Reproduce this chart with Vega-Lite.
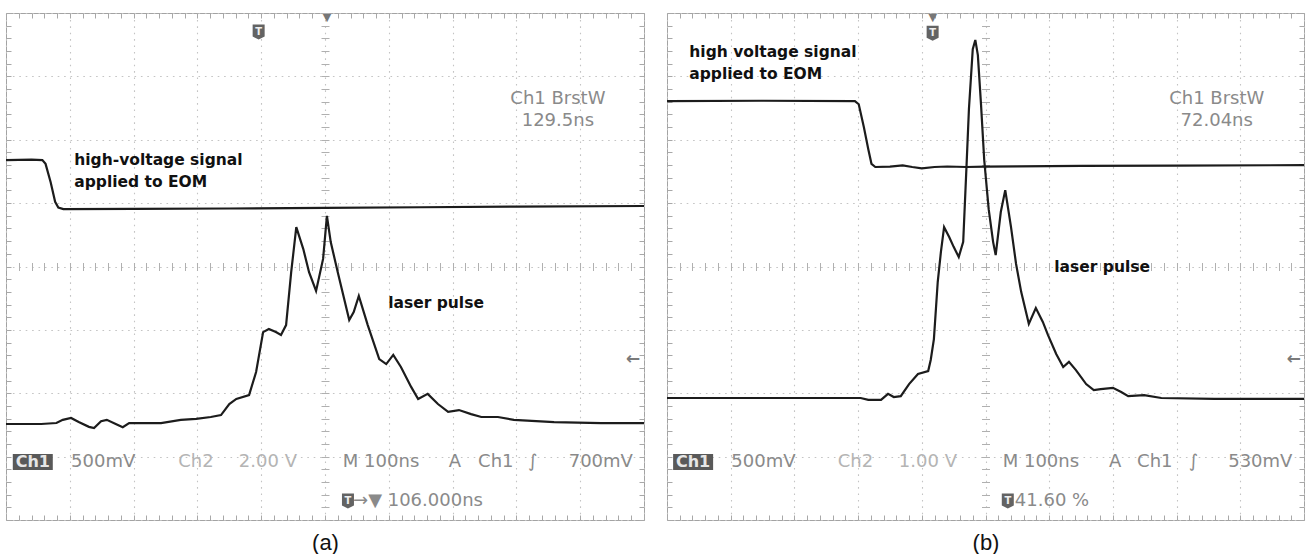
{
  "$schema": "https://vega.github.io/schema/vega-lite/v6.json",
  "background": "white",
  "padding": {"left": 5, "top": 11, "right": 2, "bottom": 2},
  "spacing": 23,
  "bounds": "flush",
  "config": {
    "view": {"stroke": "#a3a3a3", "strokeWidth": 1},
    "text": {"font": "DejaVu Sans"}
  },
  "hconcat": [
    {
      "width": 638,
      "height": 507,
      "resolve": {"axis": {"x": "independent", "y": "independent"}},
      "layer": [
        {
          "data": {"values": [
            {"t": -500, "v": 1.68}, {"t": -460, "v": 1.685}, {"t": -443, "v": 1.68}, {"t": -438, "v": 1.62},
            {"t": -430, "v": 1.33}, {"t": -423, "v": 1.02}, {"t": -418, "v": 0.93}, {"t": -410, "v": 0.905},
            {"t": -300, "v": 0.91}, {"t": -150, "v": 0.915}, {"t": 0, "v": 0.925}, {"t": 150, "v": 0.935},
            {"t": 300, "v": 0.945}, {"t": 500, "v": 0.955}
          ]},
          "mark": {"type": "line", "color": "#1c1c1c", "strokeWidth": 2.2, "clip": true},
          "encoding": {
            "x": {"field": "t", "type": "quantitative", "scale": {"domain": [-500, 500], "nice": false, "zero": false},
              "axis": {"orient": "bottom", "values": [-500, -400, -300, -200, -100, 0, 100, 200, 300, 400, 500],
                "grid": true, "gridColor": "#c4c4c4", "gridDash": [1.6, 4.8], "gridWidth": 1.1,
                "ticks": false, "labels": false, "domain": false,
                "title": "(a)", "titleFont": "Liberation Sans", "titleFontSize": 22, "titleFontWeight": "normal",
                "titleColor": "#111111", "titlePadding": 12}},
            "y": {"field": "v", "type": "quantitative", "scale": {"domain": [-4, 4], "nice": false, "zero": false},
              "axis": {"orient": "left", "values": [-4, -3, -2, -1, 0, 1, 2, 3, 4],
                "grid": true, "gridColor": "#c4c4c4", "gridDash": [1.6, 4.8], "gridWidth": 1.1,
                "ticks": false, "labels": false, "domain": false, "title": null}}
          }
        },
        {
          "data": {"values": [
            {"t": -500, "v": -2.485}, {"t": -445, "v": -2.485}, {"t": -421, "v": -2.47}, {"t": -411, "v": -2.42},
            {"t": -398, "v": -2.39}, {"t": -386, "v": -2.455}, {"t": -370, "v": -2.53}, {"t": -362, "v": -2.55},
            {"t": -351, "v": -2.44}, {"t": -342, "v": -2.42}, {"t": -328, "v": -2.485}, {"t": -317, "v": -2.535},
            {"t": -307, "v": -2.47}, {"t": -288, "v": -2.47}, {"t": -257, "v": -2.47}, {"t": -226, "v": -2.42},
            {"t": -202, "v": -2.405}, {"t": -179, "v": -2.375}, {"t": -163, "v": -2.345}, {"t": -150, "v": -2.17},
            {"t": -139, "v": -2.09}, {"t": -119, "v": -2.03}, {"t": -108, "v": -1.665}, {"t": -97, "v": -1.035},
            {"t": -88, "v": -0.985}, {"t": -77, "v": -1.035}, {"t": -69, "v": -1.08}, {"t": -61, "v": -0.925},
            {"t": -53, "v": -0.09}, {"t": -45, "v": 0.62}, {"t": -34, "v": 0.275}, {"t": -25, "v": -0.09},
            {"t": -14, "v": -0.385}, {"t": -3, "v": 0.12}, {"t": 3, "v": 0.8}, {"t": 9, "v": 0.385},
            {"t": 20, "v": -0.09}, {"t": 38, "v": -0.845}, {"t": 45, "v": -0.72}, {"t": 53, "v": -0.465},
            {"t": 67, "v": -0.925}, {"t": 85, "v": -1.46}, {"t": 96, "v": -1.54}, {"t": 107, "v": -1.395},
            {"t": 119, "v": -1.585}, {"t": 135, "v": -1.9}, {"t": 146, "v": -2.09}, {"t": 161, "v": -2.01},
            {"t": 177, "v": -2.17}, {"t": 193, "v": -2.295}, {"t": 210, "v": -2.265}, {"t": 229, "v": -2.33},
            {"t": 245, "v": -2.375}, {"t": 271, "v": -2.375}, {"t": 296, "v": -2.42}, {"t": 359, "v": -2.455},
            {"t": 433, "v": -2.47}, {"t": 500, "v": -2.47}
          ]},
          "mark": {"type": "line", "color": "#1c1c1c", "strokeWidth": 2.2, "clip": true},
          "encoding": {
            "x": {"field": "t", "type": "quantitative", "scale": {"domain": [-500, 500], "nice": false, "zero": false},
              "axis": {"orient": "bottom", "values": [-500,-480,-460,-440,-420,-400,-380,-360,-340,-320,-300,-280,-260,-240,-220,-200,-180,-160,-140,-120,-100,-80,-60,-40,-20,0,20,40,60,80,100,120,140,160,180,200,220,240,260,280,300,320,340,360,380,400,420,440,460,480,500],
                "grid": false, "ticks": true, "tickSize": -5, "tickColor": "#a8a8a8", "labels": false, "domain": false, "title": null}},
            "y": {"field": "v", "type": "quantitative", "scale": {"domain": [-4, 4], "nice": false, "zero": false},
              "axis": {"orient": "left", "values": [-4,-3.8,-3.6,-3.4,-3.2,-3,-2.8,-2.6,-2.4,-2.2,-2,-1.8,-1.6,-1.4,-1.2,-1,-0.8,-0.6,-0.4,-0.2,0,0.2,0.4,0.6,0.8,1,1.2,1.4,1.6,1.8,2,2.2,2.4,2.6,2.8,3,3.2,3.4,3.6,3.8,4],
                "grid": false, "ticks": true, "tickSize": -5, "tickColor": "#a8a8a8", "labels": false, "domain": false, "title": null}}
          }
        },
        {
          "data": {"name": "notesA", "values": [
            {"kind": "note", "t": -393, "v": 1.68, "label": "high-voltage signal"},
            {"kind": "note", "t": -393, "v": 1.33, "label": "applied to EOM"},
            {"kind": "note", "t": 99, "v": -0.58, "label": "laser pulse"},
            {"kind": "meas", "t": 365, "v": 2.64, "label": "Ch1 BrstW"},
            {"kind": "meas", "t": 365, "v": 2.3, "label": "129.5ns"},
            {"kind": "read", "t": -398, "v": -3.085, "label": "500mV"},
            {"kind": "dim", "t": -230, "v": -3.085, "label": "Ch2"},
            {"kind": "dim", "t": -135, "v": -3.085, "label": "2.00 V"},
            {"kind": "read", "t": 28, "v": -3.085, "label": "M 100ns"},
            {"kind": "read", "t": 194, "v": -3.085, "label": "A"},
            {"kind": "read", "t": 240, "v": -3.085, "label": "Ch1"},
            {"kind": "read", "t": 318, "v": -3.085, "label": "∫"},
            {"kind": "read", "t": 382, "v": -3.085, "label": "700mV"},
            {"kind": "read", "t": 44, "v": -3.7, "label": "→▼ 106.000ns"},
            {"kind": "badge", "t": -458, "v": -3.085, "label": "Ch1"},
            {"kind": "icon", "t": -104, "v": 3.7, "label": "T"},
            {"kind": "icon", "t": 36, "v": -3.7, "label": "T"},
            {"kind": "mark", "t": 3, "v": 3.92, "label": "▼"},
            {"kind": "arrow", "t": 483, "v": -1.46, "label": "←"}
          ]},
          "layer": [
            {
              "transform": [{"filter": "datum.kind === 'note'"}],
              "mark": {"type": "text", "font": "DejaVu Sans", "fontWeight": "bold", "fontSize": 15.5, "color": "#111111", "align": "left", "baseline": "middle"},
              "encoding": {
                "x": {"field": "t", "type": "quantitative", "scale": {"domain": [-500, 500], "nice": false, "zero": false},
                  "axis": {"orient": "top", "values": [-500,-480,-460,-440,-420,-400,-380,-360,-340,-320,-300,-280,-260,-240,-220,-200,-180,-160,-140,-120,-100,-80,-60,-40,-20,0,20,40,60,80,100,120,140,160,180,200,220,240,260,280,300,320,340,360,380,400,420,440,460,480,500],
                    "grid": false, "ticks": true, "tickSize": -5, "tickColor": "#a8a8a8", "labels": false, "domain": false, "title": null}},
                "y": {"field": "v", "type": "quantitative", "scale": {"domain": [-4, 4], "nice": false, "zero": false},
                  "axis": {"orient": "right", "values": [-4,-3.8,-3.6,-3.4,-3.2,-3,-2.8,-2.6,-2.4,-2.2,-2,-1.8,-1.6,-1.4,-1.2,-1,-0.8,-0.6,-0.4,-0.2,0,0.2,0.4,0.6,0.8,1,1.2,1.4,1.6,1.8,2,2.2,2.4,2.6,2.8,3,3.2,3.4,3.6,3.8,4],
                    "grid": false, "ticks": true, "tickSize": -5, "tickColor": "#a8a8a8", "labels": false, "domain": false, "title": null}},
                "text": {"field": "label"}
              }
            },
            {
              "transform": [{"filter": "datum.kind === 'meas'"}],
              "mark": {"type": "text", "fontSize": 18, "color": "#8a8a8a", "align": "center", "baseline": "middle"},
              "encoding": {
                "x": {"field": "t", "type": "quantitative", "scale": {"domain": [-500, 500], "nice": false, "zero": false},
                  "axis": {"orient": "bottom", "offset": -257.5, "values": [-500,-480,-460,-440,-420,-400,-380,-360,-340,-320,-300,-280,-260,-240,-220,-200,-180,-160,-140,-120,-100,-80,-60,-40,-20,0,20,40,60,80,100,120,140,160,180,200,220,240,260,280,300,320,340,360,380,400,420,440,460,480,500],
                    "grid": false, "ticks": true, "tickSize": 8, "tickColor": "#b0b0b0", "labels": false, "domain": false, "title": null}},
                "y": {"field": "v", "type": "quantitative", "scale": {"domain": [-4, 4], "nice": false, "zero": false},
                  "axis": {"orient": "left", "offset": -323, "values": [-4,-3.8,-3.6,-3.4,-3.2,-3,-2.8,-2.6,-2.4,-2.2,-2,-1.8,-1.6,-1.4,-1.2,-1,-0.8,-0.6,-0.4,-0.2,0,0.2,0.4,0.6,0.8,1,1.2,1.4,1.6,1.8,2,2.2,2.4,2.6,2.8,3,3.2,3.4,3.6,3.8,4],
                    "grid": false, "ticks": true, "tickSize": 8, "tickColor": "#b0b0b0", "labels": false, "domain": false, "title": null}},
                "text": {"field": "label"}
              }
            },
            {
              "transform": [{"filter": "datum.kind === 'read'"}],
              "mark": {"type": "text", "fontSize": 18, "color": "#8a8a8a", "align": "left", "baseline": "middle"},
              "encoding": {
                "x": {"field": "t", "type": "quantitative", "scale": {"domain": [-500, 500], "nice": false, "zero": false}, "axis": null},
                "y": {"field": "v", "type": "quantitative", "scale": {"domain": [-4, 4], "nice": false, "zero": false}, "axis": null},
                "text": {"field": "label"}
              }
            },
            {
              "transform": [{"filter": "datum.kind === 'dim'"}],
              "mark": {"type": "text", "fontSize": 18, "color": "#b4b4b4", "align": "left", "baseline": "middle"},
              "encoding": {
                "x": {"field": "t", "type": "quantitative", "scale": {"domain": [-500, 500], "nice": false, "zero": false}, "axis": null},
                "y": {"field": "v", "type": "quantitative", "scale": {"domain": [-4, 4], "nice": false, "zero": false}, "axis": null},
                "text": {"field": "label"}
              }
            },
            {
              "transform": [{"filter": "datum.kind === 'badge'"}],
              "mark": {"type": "point", "shape": "M-1,-0.4H1V0.4H-1Z", "size": 1600, "filled": true, "color": "#595959", "opacity": 1},
              "encoding": {
                "x": {"field": "t", "type": "quantitative", "scale": {"domain": [-500, 500], "nice": false, "zero": false}, "axis": null},
                "y": {"field": "v", "type": "quantitative", "scale": {"domain": [-4, 4], "nice": false, "zero": false}, "axis": null}
              }
            },
            {
              "transform": [{"filter": "datum.kind === 'badge'"}],
              "mark": {"type": "text", "fontSize": 16, "fontWeight": "bold", "color": "#e6e6e6", "align": "center", "baseline": "middle"},
              "encoding": {
                "x": {"field": "t", "type": "quantitative", "scale": {"domain": [-500, 500], "nice": false, "zero": false}, "axis": null},
                "y": {"field": "v", "type": "quantitative", "scale": {"domain": [-4, 4], "nice": false, "zero": false}, "axis": null},
                "text": {"field": "label"}
              }
            },
            {
              "transform": [{"filter": "datum.kind === 'icon'"}],
              "mark": {"type": "point", "shape": "M-0.8,-1H0.8V0.6L0,1L-0.8,0.6Z", "size": 225, "filled": true, "color": "#636363", "opacity": 1},
              "encoding": {
                "x": {"field": "t", "type": "quantitative", "scale": {"domain": [-500, 500], "nice": false, "zero": false}, "axis": null},
                "y": {"field": "v", "type": "quantitative", "scale": {"domain": [-4, 4], "nice": false, "zero": false}, "axis": null}
              }
            },
            {
              "transform": [{"filter": "datum.kind === 'icon'"}],
              "mark": {"type": "text", "fontSize": 10, "fontWeight": "bold", "color": "#eeeeee", "align": "center", "baseline": "middle"},
              "encoding": {
                "x": {"field": "t", "type": "quantitative", "scale": {"domain": [-500, 500], "nice": false, "zero": false}, "axis": null},
                "y": {"field": "v", "type": "quantitative", "scale": {"domain": [-4, 4], "nice": false, "zero": false}, "axis": null},
                "text": {"field": "label"}
              }
            },
            {
              "transform": [{"filter": "datum.kind === 'mark'"}],
              "mark": {"type": "text", "fontSize": 11, "color": "#777777", "align": "center", "baseline": "middle"},
              "encoding": {
                "x": {"field": "t", "type": "quantitative", "scale": {"domain": [-500, 500], "nice": false, "zero": false}, "axis": null},
                "y": {"field": "v", "type": "quantitative", "scale": {"domain": [-4, 4], "nice": false, "zero": false}, "axis": null},
                "text": {"field": "label"}
              }
            },
            {
              "transform": [{"filter": "datum.kind === 'arrow'"}],
              "mark": {"type": "text", "fontSize": 17, "fontWeight": "bold", "color": "#7a7a7a", "align": "center", "baseline": "middle"},
              "encoding": {
                "x": {"field": "t", "type": "quantitative", "scale": {"domain": [-500, 500], "nice": false, "zero": false}, "axis": null},
                "y": {"field": "v", "type": "quantitative", "scale": {"domain": [-4, 4], "nice": false, "zero": false}, "axis": null},
                "text": {"field": "label"}
              }
            }
          ]
        }
      ]
    },
    {
      "width": 637,
      "height": 507,
      "resolve": {"axis": {"x": "independent", "y": "independent"}},
      "layer": [
        {
          "data": {"values": [
            {"t": -500, "v": 2.61}, {"t": -350, "v": 2.615}, {"t": -205, "v": 2.61}, {"t": -199, "v": 2.56},
            {"t": -191, "v": 2.2}, {"t": -184, "v": 1.85}, {"t": -179, "v": 1.62}, {"t": -173, "v": 1.57},
            {"t": -150, "v": 1.575}, {"t": -130, "v": 1.595}, {"t": -115, "v": 1.57}, {"t": -100, "v": 1.55},
            {"t": -80, "v": 1.57}, {"t": -60, "v": 1.578}, {"t": -30, "v": 1.57}, {"t": 0, "v": 1.575},
            {"t": 50, "v": 1.58}, {"t": 150, "v": 1.588}, {"t": 300, "v": 1.592}, {"t": 500, "v": 1.6}
          ]},
          "mark": {"type": "line", "color": "#1c1c1c", "strokeWidth": 2.2, "clip": true},
          "encoding": {
            "x": {"field": "t", "type": "quantitative", "scale": {"domain": [-500, 500], "nice": false, "zero": false},
              "axis": {"orient": "bottom", "values": [-500, -400, -300, -200, -100, 0, 100, 200, 300, 400, 500],
                "grid": true, "gridColor": "#c4c4c4", "gridDash": [1.6, 4.8], "gridWidth": 1.1,
                "ticks": false, "labels": false, "domain": false,
                "title": "(b)", "titleFont": "Liberation Sans", "titleFontSize": 22, "titleFontWeight": "normal",
                "titleColor": "#111111", "titlePadding": 12}},
            "y": {"field": "v", "type": "quantitative", "scale": {"domain": [-4, 4], "nice": false, "zero": false},
              "axis": {"orient": "left", "values": [-4, -3, -2, -1, 0, 1, 2, 3, 4],
                "grid": true, "gridColor": "#c4c4c4", "gridDash": [1.6, 4.8], "gridWidth": 1.1,
                "ticks": false, "labels": false, "domain": false, "title": null}}
          }
        },
        {
          "data": {"values": [
            {"t": -500, "v": -2.075}, {"t": -290, "v": -2.075}, {"t": -196, "v": -2.075}, {"t": -184, "v": -2.105},
            {"t": -164, "v": -2.105}, {"t": -153, "v": -2.01}, {"t": -144, "v": -2.06}, {"t": -133, "v": -2.045},
            {"t": -120, "v": -1.855}, {"t": -106, "v": -1.695}, {"t": -90, "v": -1.65}, {"t": -86, "v": -1.475},
            {"t": -81, "v": -1.145}, {"t": -75, "v": -0.245}, {"t": -70, "v": 0.23}, {"t": -65, "v": 0.62},
            {"t": -57, "v": 0.465}, {"t": -50, "v": 0.31}, {"t": -42, "v": 0.15}, {"t": -35, "v": 0.39},
            {"t": -30, "v": 1.54}, {"t": -26, "v": 2.485}, {"t": -20, "v": 3.43}, {"t": -16, "v": 3.575},
            {"t": -12, "v": 3.335}, {"t": -7, "v": 2.55}, {"t": -2, "v": 1.68}, {"t": 5, "v": 0.905},
            {"t": 12, "v": 0.385}, {"t": 16, "v": 0.18}, {"t": 24, "v": 0.86}, {"t": 31, "v": 1.205},
            {"t": 40, "v": 0.625}, {"t": 48, "v": 0.04}, {"t": 56, "v": -0.4}, {"t": 68, "v": -0.905},
            {"t": 79, "v": -0.655}, {"t": 90, "v": -0.875}, {"t": 98, "v": -1.08}, {"t": 111, "v": -1.38},
            {"t": 122, "v": -1.585}, {"t": 131, "v": -1.505}, {"t": 142, "v": -1.635}, {"t": 158, "v": -1.855},
            {"t": 170, "v": -1.95}, {"t": 181, "v": -1.935}, {"t": 200, "v": -1.915}, {"t": 213, "v": -1.98},
            {"t": 224, "v": -2.045}, {"t": 249, "v": -2.03}, {"t": 276, "v": -2.075}, {"t": 359, "v": -2.09},
            {"t": 500, "v": -2.09}
          ]},
          "mark": {"type": "line", "color": "#1c1c1c", "strokeWidth": 2.2, "clip": true},
          "encoding": {
            "x": {"field": "t", "type": "quantitative", "scale": {"domain": [-500, 500], "nice": false, "zero": false},
              "axis": {"orient": "bottom", "values": [-500,-480,-460,-440,-420,-400,-380,-360,-340,-320,-300,-280,-260,-240,-220,-200,-180,-160,-140,-120,-100,-80,-60,-40,-20,0,20,40,60,80,100,120,140,160,180,200,220,240,260,280,300,320,340,360,380,400,420,440,460,480,500],
                "grid": false, "ticks": true, "tickSize": -5, "tickColor": "#a8a8a8", "labels": false, "domain": false, "title": null}},
            "y": {"field": "v", "type": "quantitative", "scale": {"domain": [-4, 4], "nice": false, "zero": false},
              "axis": {"orient": "left", "values": [-4,-3.8,-3.6,-3.4,-3.2,-3,-2.8,-2.6,-2.4,-2.2,-2,-1.8,-1.6,-1.4,-1.2,-1,-0.8,-0.6,-0.4,-0.2,0,0.2,0.4,0.6,0.8,1,1.2,1.4,1.6,1.8,2,2.2,2.4,2.6,2.8,3,3.2,3.4,3.6,3.8,4],
                "grid": false, "ticks": true, "tickSize": -5, "tickColor": "#a8a8a8", "labels": false, "domain": false, "title": null}}
          }
        },
        {
          "data": {"name": "notesB", "values": [
            {"kind": "note", "t": -465, "v": 3.385, "label": "high voltage signal"},
            {"kind": "note", "t": -465, "v": 3.035, "label": "applied to EOM"},
            {"kind": "note", "t": 108, "v": -0.01, "label": "laser pulse"},
            {"kind": "meas", "t": 363, "v": 2.64, "label": "Ch1 BrstW"},
            {"kind": "meas", "t": 363, "v": 2.3, "label": "72.04ns"},
            {"kind": "read", "t": -399, "v": -3.085, "label": "500mV"},
            {"kind": "dim", "t": -232, "v": -3.085, "label": "Ch2"},
            {"kind": "dim", "t": -136, "v": -3.085, "label": "1.00 V"},
            {"kind": "read", "t": 27, "v": -3.085, "label": "M 100ns"},
            {"kind": "read", "t": 194, "v": -3.085, "label": "A"},
            {"kind": "read", "t": 238, "v": -3.085, "label": "Ch1"},
            {"kind": "read", "t": 319, "v": -3.085, "label": "∫"},
            {"kind": "read", "t": 381, "v": -3.085, "label": "530mV"},
            {"kind": "read", "t": 46, "v": -3.7, "label": "41.60 %"},
            {"kind": "badge", "t": -459, "v": -3.085, "label": "Ch1"},
            {"kind": "icon", "t": -83, "v": 3.68, "label": "T"},
            {"kind": "icon", "t": 35, "v": -3.7, "label": "T"},
            {"kind": "mark", "t": -83, "v": 3.92, "label": "▼"},
            {"kind": "arrow", "t": 484, "v": -1.46, "label": "←"}
          ]},
          "layer": [
            {
              "transform": [{"filter": "datum.kind === 'note'"}],
              "mark": {"type": "text", "font": "DejaVu Sans", "fontWeight": "bold", "fontSize": 15.5, "color": "#111111", "align": "left", "baseline": "middle"},
              "encoding": {
                "x": {"field": "t", "type": "quantitative", "scale": {"domain": [-500, 500], "nice": false, "zero": false},
                  "axis": {"orient": "top", "values": [-500,-480,-460,-440,-420,-400,-380,-360,-340,-320,-300,-280,-260,-240,-220,-200,-180,-160,-140,-120,-100,-80,-60,-40,-20,0,20,40,60,80,100,120,140,160,180,200,220,240,260,280,300,320,340,360,380,400,420,440,460,480,500],
                    "grid": false, "ticks": true, "tickSize": -5, "tickColor": "#a8a8a8", "labels": false, "domain": false, "title": null}},
                "y": {"field": "v", "type": "quantitative", "scale": {"domain": [-4, 4], "nice": false, "zero": false},
                  "axis": {"orient": "right", "values": [-4,-3.8,-3.6,-3.4,-3.2,-3,-2.8,-2.6,-2.4,-2.2,-2,-1.8,-1.6,-1.4,-1.2,-1,-0.8,-0.6,-0.4,-0.2,0,0.2,0.4,0.6,0.8,1,1.2,1.4,1.6,1.8,2,2.2,2.4,2.6,2.8,3,3.2,3.4,3.6,3.8,4],
                    "grid": false, "ticks": true, "tickSize": -5, "tickColor": "#a8a8a8", "labels": false, "domain": false, "title": null}},
                "text": {"field": "label"}
              }
            },
            {
              "transform": [{"filter": "datum.kind === 'meas'"}],
              "mark": {"type": "text", "fontSize": 18, "color": "#8a8a8a", "align": "center", "baseline": "middle"},
              "encoding": {
                "x": {"field": "t", "type": "quantitative", "scale": {"domain": [-500, 500], "nice": false, "zero": false},
                  "axis": {"orient": "bottom", "offset": -257.5, "values": [-500,-480,-460,-440,-420,-400,-380,-360,-340,-320,-300,-280,-260,-240,-220,-200,-180,-160,-140,-120,-100,-80,-60,-40,-20,0,20,40,60,80,100,120,140,160,180,200,220,240,260,280,300,320,340,360,380,400,420,440,460,480,500],
                    "grid": false, "ticks": true, "tickSize": 8, "tickColor": "#b0b0b0", "labels": false, "domain": false, "title": null}},
                "y": {"field": "v", "type": "quantitative", "scale": {"domain": [-4, 4], "nice": false, "zero": false},
                  "axis": {"orient": "left", "offset": -322.5, "values": [-4,-3.8,-3.6,-3.4,-3.2,-3,-2.8,-2.6,-2.4,-2.2,-2,-1.8,-1.6,-1.4,-1.2,-1,-0.8,-0.6,-0.4,-0.2,0,0.2,0.4,0.6,0.8,1,1.2,1.4,1.6,1.8,2,2.2,2.4,2.6,2.8,3,3.2,3.4,3.6,3.8,4],
                    "grid": false, "ticks": true, "tickSize": 8, "tickColor": "#b0b0b0", "labels": false, "domain": false, "title": null}},
                "text": {"field": "label"}
              }
            },
            {
              "transform": [{"filter": "datum.kind === 'read'"}],
              "mark": {"type": "text", "fontSize": 18, "color": "#8a8a8a", "align": "left", "baseline": "middle"},
              "encoding": {
                "x": {"field": "t", "type": "quantitative", "scale": {"domain": [-500, 500], "nice": false, "zero": false}, "axis": null},
                "y": {"field": "v", "type": "quantitative", "scale": {"domain": [-4, 4], "nice": false, "zero": false}, "axis": null},
                "text": {"field": "label"}
              }
            },
            {
              "transform": [{"filter": "datum.kind === 'dim'"}],
              "mark": {"type": "text", "fontSize": 18, "color": "#b4b4b4", "align": "left", "baseline": "middle"},
              "encoding": {
                "x": {"field": "t", "type": "quantitative", "scale": {"domain": [-500, 500], "nice": false, "zero": false}, "axis": null},
                "y": {"field": "v", "type": "quantitative", "scale": {"domain": [-4, 4], "nice": false, "zero": false}, "axis": null},
                "text": {"field": "label"}
              }
            },
            {
              "transform": [{"filter": "datum.kind === 'badge'"}],
              "mark": {"type": "point", "shape": "M-1,-0.4H1V0.4H-1Z", "size": 1600, "filled": true, "color": "#595959", "opacity": 1},
              "encoding": {
                "x": {"field": "t", "type": "quantitative", "scale": {"domain": [-500, 500], "nice": false, "zero": false}, "axis": null},
                "y": {"field": "v", "type": "quantitative", "scale": {"domain": [-4, 4], "nice": false, "zero": false}, "axis": null}
              }
            },
            {
              "transform": [{"filter": "datum.kind === 'badge'"}],
              "mark": {"type": "text", "fontSize": 16, "fontWeight": "bold", "color": "#e6e6e6", "align": "center", "baseline": "middle"},
              "encoding": {
                "x": {"field": "t", "type": "quantitative", "scale": {"domain": [-500, 500], "nice": false, "zero": false}, "axis": null},
                "y": {"field": "v", "type": "quantitative", "scale": {"domain": [-4, 4], "nice": false, "zero": false}, "axis": null},
                "text": {"field": "label"}
              }
            },
            {
              "transform": [{"filter": "datum.kind === 'icon'"}],
              "mark": {"type": "point", "shape": "M-0.8,-1H0.8V0.6L0,1L-0.8,0.6Z", "size": 225, "filled": true, "color": "#636363", "opacity": 1},
              "encoding": {
                "x": {"field": "t", "type": "quantitative", "scale": {"domain": [-500, 500], "nice": false, "zero": false}, "axis": null},
                "y": {"field": "v", "type": "quantitative", "scale": {"domain": [-4, 4], "nice": false, "zero": false}, "axis": null}
              }
            },
            {
              "transform": [{"filter": "datum.kind === 'icon'"}],
              "mark": {"type": "text", "fontSize": 10, "fontWeight": "bold", "color": "#eeeeee", "align": "center", "baseline": "middle"},
              "encoding": {
                "x": {"field": "t", "type": "quantitative", "scale": {"domain": [-500, 500], "nice": false, "zero": false}, "axis": null},
                "y": {"field": "v", "type": "quantitative", "scale": {"domain": [-4, 4], "nice": false, "zero": false}, "axis": null},
                "text": {"field": "label"}
              }
            },
            {
              "transform": [{"filter": "datum.kind === 'mark'"}],
              "mark": {"type": "text", "fontSize": 11, "color": "#777777", "align": "center", "baseline": "middle"},
              "encoding": {
                "x": {"field": "t", "type": "quantitative", "scale": {"domain": [-500, 500], "nice": false, "zero": false}, "axis": null},
                "y": {"field": "v", "type": "quantitative", "scale": {"domain": [-4, 4], "nice": false, "zero": false}, "axis": null},
                "text": {"field": "label"}
              }
            },
            {
              "transform": [{"filter": "datum.kind === 'arrow'"}],
              "mark": {"type": "text", "fontSize": 17, "fontWeight": "bold", "color": "#7a7a7a", "align": "center", "baseline": "middle"},
              "encoding": {
                "x": {"field": "t", "type": "quantitative", "scale": {"domain": [-500, 500], "nice": false, "zero": false}, "axis": null},
                "y": {"field": "v", "type": "quantitative", "scale": {"domain": [-4, 4], "nice": false, "zero": false}, "axis": null},
                "text": {"field": "label"}
              }
            }
          ]
        }
      ]
    }
  ]
}
